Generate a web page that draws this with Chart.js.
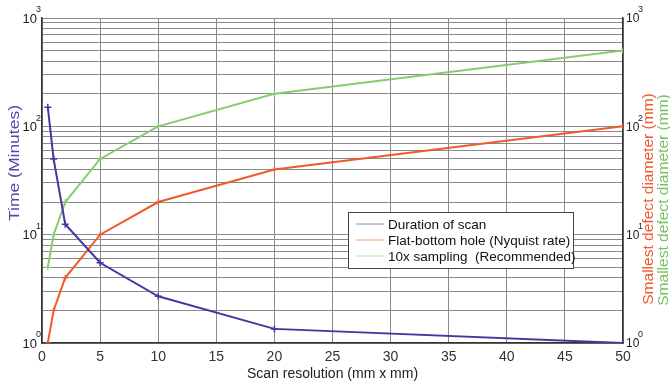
<!DOCTYPE html>
<html>
<head>
<meta charset="utf-8">
<script src="https://cdn.jsdelivr.net/npm/chart.js@4.4.1/dist/chart.umd.min.js"></script>
<style>
  html, body { margin: 0; padding: 0; background: #fff; }
</style>
</head>
<body>
<canvas id="scanChart" width="670" height="385"></canvas>
<script>
// data
const scanRes = [0.5, 1, 2, 5, 10, 20, 50];
const scanDuration = [150, 50, 12.5, 5.5, 2.7, 1.35, 1];
const nyquistDiameter = [1, 2, 4, 10, 20, 40, 100];
const sampledDiameter = [5, 10, 20, 50, 100, 200, 500];

const xTicks = [0, 5, 10, 15, 20, 25, 30, 35, 40, 45, 50];
const yGridValues = [1, 2, 3, 4, 5, 6, 7, 8, 9,
                     10, 20, 30, 40, 50, 60, 70, 80, 90,
                     100, 200, 300, 400, 500, 600, 700, 800, 900, 1000];
const yMajorTicks = [1, 10, 100, 1000];
const yExponents = ['0', '1', '2', '3'];

const BLUE = '#4637a0';
const RED = '#f05a2a';
const GREEN = '#86cc72';
const FONT = '"Liberation Sans", Arial, sans-serif';

const toPoints = (ys) => scanRes.map((x, i) => ({ x: x, y: ys[i] }));

function verticalText(ctx, text, x, y, color, stretch) {
    ctx.save();
    ctx.translate(x, y);
    ctx.rotate(-Math.PI / 2);
    ctx.scale(stretch, 1);
    ctx.fillStyle = color;
    ctx.font = '14px ' + FONT;
    ctx.textAlign = 'center';
    ctx.textBaseline = 'middle';
    ctx.fillText(text, 0, 0);
    ctx.restore();
}

const extras = {
    id: 'extras',
    afterDraw(chart) {
        const ctx = chart.ctx;
        const yL = chart.scales.y;
        const yR = chart.scales.y1;
        ctx.save();
        ctx.fillStyle = '#222';
        ctx.textBaseline = 'middle';
        yMajorTicks.forEach((v, i) => {
            const py = yL.getPixelForValue(v);
            ctx.font = '13px ' + FONT;
            ctx.textAlign = 'right';
            ctx.fillText('10', yL.right - 5, py + 1);
            ctx.font = '9px ' + FONT;
            ctx.textAlign = 'left';
            ctx.fillText(yExponents[i], yL.right - 6, py - 8);

            const pr = yR.getPixelForValue(v);
            ctx.font = '12px ' + FONT;
            ctx.fillText('10', yR.left + 3, pr + 1);
            ctx.font = '9px ' + FONT;
            ctx.fillText(yExponents[i], yR.left + 15, pr - 8);
        });
        ctx.restore();

        verticalText(ctx, 'Time (Minutes)', 15, 163, '#5548ad', 1.25);
        verticalText(ctx, 'Smallest defect diameter (mm)', 649, 199, RED, 1.11);
        verticalText(ctx, 'Smallest defect diameter (mm)', 664, 200, '#78c064', 1.11);

        // legend box inside the plot
        const lx = 348, ly = 212, lw = 225, lh = 56;
        ctx.save();
        ctx.fillStyle = '#fff';
        ctx.fillRect(lx, ly, lw, lh);
        ctx.strokeStyle = '#444';
        ctx.lineWidth = 1;
        ctx.strokeRect(lx + 0.5, ly + 0.5, lw, lh);
        ctx.font = '13.5px ' + FONT;
        ctx.textAlign = 'left';
        ctx.textBaseline = 'middle';
        chart.data.datasets.forEach((ds, i) => {
            const ry = ly + 12 + i * 16;
            ctx.strokeStyle = ds.borderColor;
            ctx.globalAlpha = 0.6;
            ctx.beginPath();
            ctx.moveTo(lx + 8, ry);
            ctx.lineTo(lx + 36, ry);
            ctx.stroke();
            ctx.globalAlpha = 1;
            ctx.fillStyle = '#111';
            ctx.fillText(ds.label, lx + 40, ry + 1);
        });
        ctx.restore();
    }
};

const ctx = document.getElementById('scanChart').getContext('2d');
new Chart(ctx, {
    type: 'line',
    data: {
        datasets: [
            {
                label: 'Duration of scan',
                data: toPoints(scanDuration),
                yAxisID: 'y',
                borderColor: BLUE,
                backgroundColor: BLUE,
                borderWidth: 2,
                pointStyle: 'cross',
                pointRadius: 3.5,
                pointBorderWidth: 1.5,
                tension: 0
            },
            {
                label: 'Flat-bottom hole (Nyquist rate)',
                data: toPoints(nyquistDiameter),
                yAxisID: 'y1',
                borderColor: RED,
                backgroundColor: RED,
                borderWidth: 2,
                pointStyle: 'cross',
                pointRadius: 3,
                pointBorderWidth: 1.2,
                tension: 0
            },
            {
                label: '10x sampling  (Recommended)',
                data: toPoints(sampledDiameter),
                yAxisID: 'y1',
                borderColor: GREEN,
                backgroundColor: GREEN,
                borderWidth: 2,
                pointStyle: 'cross',
                pointRadius: 3,
                pointBorderWidth: 1.2,
                tension: 0
            }
        ]
    },
    options: {
        responsive: false,
        animation: false,
        layout: { padding: { top: 18, left: 0, right: 0, bottom: 0 } },
        plugins: {
            legend: { display: false },
            tooltip: { enabled: false }
        },
        scales: {
            x: {
                type: 'linear',
                min: 0,
                max: 50,
                afterBuildTicks: (scale) => { scale.ticks = xTicks.map(v => ({ value: v })); },
                afterFit: (scale) => { scale.height = 42; },
                grid: { color: '#8a8a8a', lineWidth: 1, drawTicks: false },
                border: { color: '#333', width: 1.5 },
                ticks: {
                    color: '#333',
                    padding: 6,
                    maxRotation: 0,
                    font: { family: FONT, size: 14 }
                },
                title: {
                    display: true,
                    text: 'Scan resolution (mm x mm)',
                    color: '#222',
                    padding: { top: 0, bottom: 2 },
                    font: { family: FONT, size: 14 }
                }
            },
            y: {
                type: 'logarithmic',
                position: 'left',
                min: 1,
                max: 1000,
                afterBuildTicks: (scale) => { scale.ticks = yGridValues.map(v => ({ value: v })); },
                afterFit: (scale) => { scale.width = 42; },
                grid: { color: '#8a8a8a', lineWidth: 1, drawTicks: false },
                border: { color: '#333', width: 1.5 },
                ticks: { display: false }
            },
            y1: {
                type: 'logarithmic',
                position: 'right',
                min: 1,
                max: 1000,
                afterBuildTicks: (scale) => { scale.ticks = yGridValues.map(v => ({ value: v })); },
                afterFit: (scale) => { scale.width = 47; },
                grid: { display: false, drawTicks: false },
                border: { color: '#333', width: 1.5 },
                ticks: { display: false }
            }
        }
    },
    plugins: [extras]
});
</script>
</body>
</html>
